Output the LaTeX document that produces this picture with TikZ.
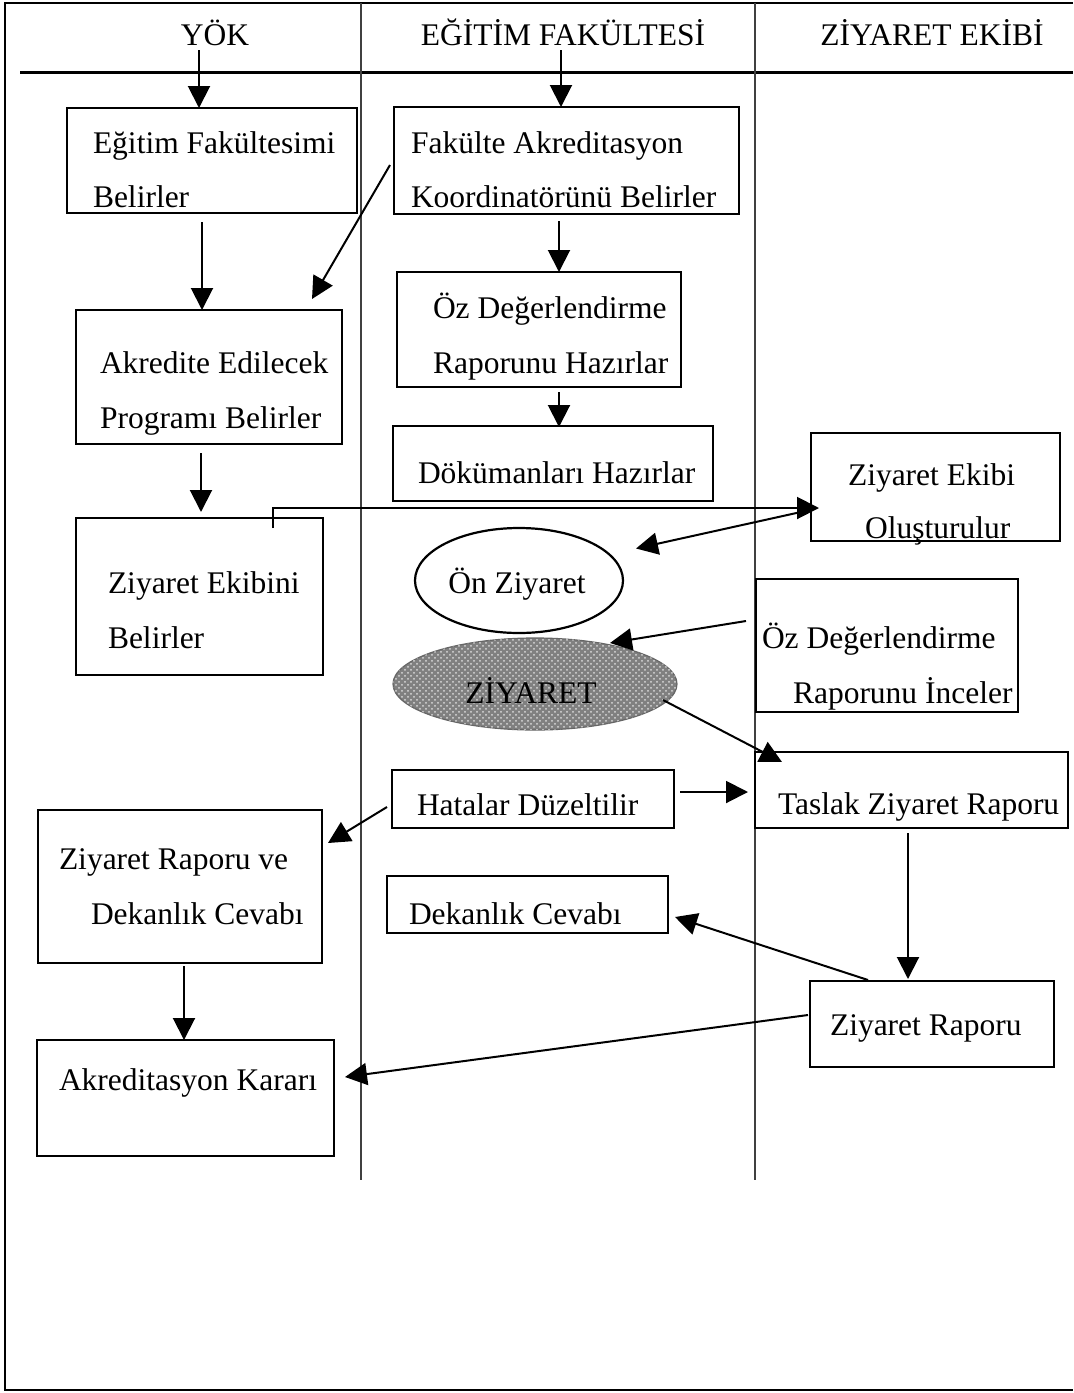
\documentclass[tikz,border=0pt]{standalone}
\usepackage{fontspec}
\setmainfont{Liberation Serif}
\usetikzlibrary{arrows.meta,calc,shapes.geometric,patterns}
\newcommand\mybox[5]{\node[boxst, minimum width={(#4-#2)*0.5pt}, minimum height={(#5-#3)*0.5pt}] (#1) at ({(#2+#4)/2},{(#3+#5)/2}) {};}
\begin{document}
\begin{tikzpicture}[x=0.5pt,y=-0.5pt,
  boxst/.style={draw, line width=1.4pt, rectangle, inner sep=0pt, outer sep=0pt},
  txt/.style={inner sep=0pt, outer sep=0pt, font=\fontsize{15.75}{18}\selectfont},
  arr/.style={line width=1pt, -{Triangle[length=11pt,width=11pt]}},
  lane/.style={line width=0.6pt, black!75},
  frame/.style={line width=1pt}]
\useasboundingbox (0,0) rectangle (1073,1393);
\fill[white] (0,0) rectangle (1073,1393);
% frame and lanes
\draw[frame] (1073,3) -- (5,3) -- (5,1390) -- (1073,1390);
\draw[line width=1.5pt] (20,72) -- (1073,72);
\draw[lane] (361,3) -- (361,1180);
\draw[lane] (755,3) -- (755,1180);
% headers
\node[txt, anchor=base] (hyok) at (215,45) {YÖK};
\node[txt, anchor=base] (hef) at (563,45) {EĞİTİM FAKÜLTESİ};
\node[txt, anchor=base] (hze) at (932,45) {ZİYARET EKİBİ};
% boxes
\mybox{b1}{67}{108}{357}{213}
\mybox{b2}{394}{107}{739}{214}
\mybox{b3}{397}{272}{681}{387}
\mybox{b4}{393}{426}{713}{501}
\mybox{b5}{76}{310}{342}{444}
\mybox{b6}{76}{518}{323}{675}
\mybox{b7}{811}{433}{1060}{541}
\mybox{b10}{756}{579}{1018}{712}
\mybox{b11}{392}{770}{674}{828}
\mybox{b12}{755}{752}{1068}{828}
\mybox{b13}{38}{810}{322}{963}
\mybox{b14}{387}{876}{668}{933}
\mybox{b15}{810}{981}{1054}{1067}
\mybox{b16}{37}{1040}{334}{1156}
\node[ellipse, draw, line width=1.1pt, inner sep=0pt, minimum width=104pt, minimum height=52.5pt] (e8) at (519,580.5) {};
\node[ellipse, draw=black!60, line width=0.6pt, fill=black!50, inner sep=0pt, minimum width=142pt, minimum height=46pt,
  postaction={pattern=crosshatch dots, pattern color=black!15}] (e9) at (535,684) {};
% texts
\node[txt, anchor=base west] (t1a) at (93,153) {Eğitim Fakültesimi};
\node[txt, anchor=base west] (t1b) at (93,207) {Belirler};
\node[txt, anchor=base west] (t2a) at (411,153) {Fakülte Akreditasyon};
\node[txt, anchor=base west] (t2b) at (411,207) {Koordinatörünü Belirler};
\node[txt, anchor=base west] (t3a) at (433,318) {Öz Değerlendirme};
\node[txt, anchor=base west] (t3b) at (433,373) {Raporunu Hazırlar};
\node[txt, anchor=base west] (t4) at (418,483) {Dökümanları Hazırlar};
\node[txt, anchor=base west] (t5a) at (100,373) {Akredite Edilecek};
\node[txt, anchor=base west] (t5b) at (100,428) {Programı Belirler};
\node[txt, anchor=base west] (t6a) at (108,593) {Ziyaret Ekibini};
\node[txt, anchor=base west] (t6b) at (108,648) {Belirler};
\node[txt, anchor=base west] (t7a) at (848,485) {Ziyaret Ekibi};
\node[txt, anchor=base west] (t7b) at (865,538) {Oluşturulur};
\node[txt, anchor=base] (t8) at (517,593) {Ön Ziyaret};
\node[txt, anchor=base] (t9) at (531,703) {ZİYARET};
\node[txt, anchor=base west] (t10a) at (762,648) {Öz Değerlendirme};
\node[txt, anchor=base west] (t10b) at (793,703) {Raporunu İnceler};
\node[txt, anchor=base west] (t11) at (417,815) {Hatalar Düzeltilir};
\node[txt, anchor=base west] (t12) at (778,814) {Taslak Ziyaret Raporu};
\node[txt, anchor=base west] (t13a) at (59,869) {Ziyaret Raporu ve};
\node[txt, anchor=base west] (t13b) at (91,924) {Dekanlık Cevabı};
\node[txt, anchor=base west] (t14) at (409,924) {Dekanlık Cevabı};
\node[txt, anchor=base west] (t15) at (830,1035) {Ziyaret Raporu};
\node[txt, anchor=base west] (t16) at (59,1090) {Akreditasyon Kararı};
% connectors
\draw[arr] ($(hyok.south)+(-16,5)$) -- ($(b1.north)+(-13,0)$);
\draw[arr] ($(hef.south)+(-2,5)$) -- ($(b2.north)+(-5.5,0)$);
\draw[arr] ($(b1.south)+(-10,9)$) -- ($(b5.north)+(-7,0)$);
\draw[arr] ($(b2.west)+(-4,4.5)$) -- ($(b5.north east)+(-30,-11)$);
\draw[arr] ($(b2.south)+(-7.5,7)$) -- ($(b3.north)+(20,0)$);
\draw[arr] ($(b3.south)+(20,5)$) -- ($(b4.north)+(6,1)$);
\draw[arr] ($(b5.south)+(-8,9)$) -- ($(b6.north)+(1.5,-6)$);
\draw[arr] ($(b6.north west)+(197,10)$) |- ($(b7.west)+(8,21)$);
\draw[arr] ($(b7.west)+(-1,23)$) -- ($(e8.center)+(117,-32)$);
\draw[arr] ($(b10.west)+(-10,-24.5)$) -- ($(e9.center)+(75,-41)$);
\draw[arr] ($(e9.center)+(128,16)$) -- ($(b12.north west)+(27,10)$);
\draw[arr] ($(b11.east)+(6,-7)$) -- ($(b12.west)+(-7,2)$);
\draw[arr] ($(b11.west)+(-5,8)$) -- ($(b13.north east)+(6,33)$);
\draw[arr] ($(b12.south)+(-3.5,5)$) -- ($(b15.north)+(-24,-2)$);
\draw[arr] ($(b15.north)+(-64,-1)$) -- ($(b14.east)+(7,12.5)$);
\draw[arr] ($(b15.west)+(-2,-9)$) -- ($(b16.east)+(11,-21)$);
\draw[arr] ($(b13.south)+(4,3)$) -- ($(b16.north)+(-1.5,0)$);
\end{tikzpicture}
\end{document}
